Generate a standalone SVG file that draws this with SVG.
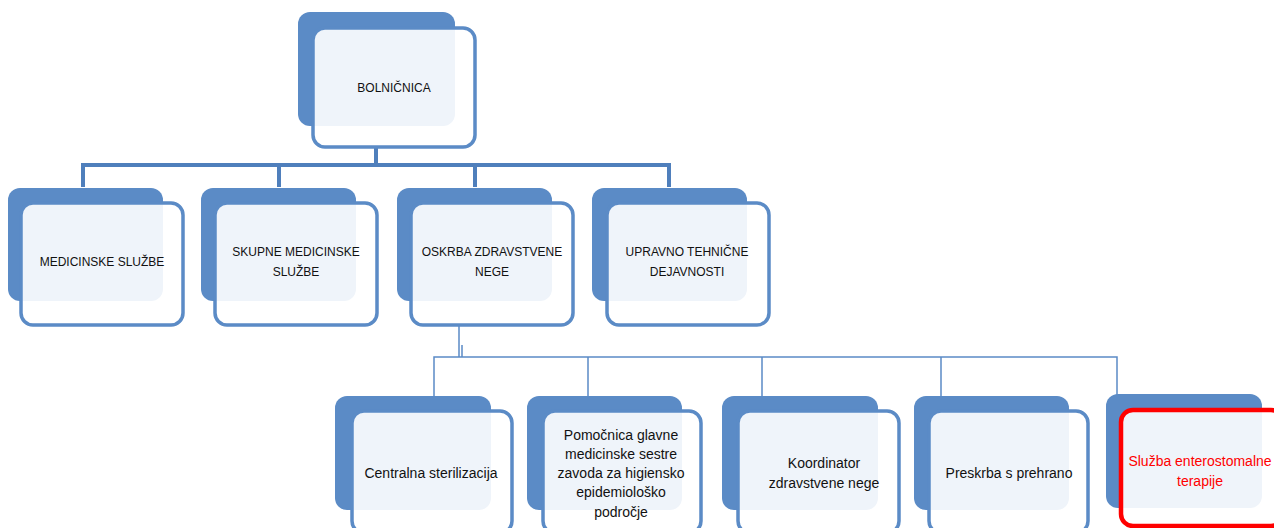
<svg xmlns="http://www.w3.org/2000/svg" width="1274" height="528" viewBox="0 0 1274 528">
<style>
.back{fill:#5b8bc6}
.front{fill:#ffffff;fill-opacity:0.9;stroke:#5b8bc6;stroke-width:3.5}
.red{fill:#ffffff;fill-opacity:0.9;stroke:#ff0000;stroke-width:4.5}
.t1{font-family:"Liberation Sans",Arial,sans-serif;font-size:12px;fill:#111;text-anchor:middle}
.t2{font-family:"Liberation Sans",Arial,sans-serif;font-size:14px;fill:#111;text-anchor:middle}
.tr{fill:#ff0000}
.c1{fill:none;stroke:#4f7fbc;stroke-width:4}
.c2{fill:none;stroke:#5b8bc6;stroke-width:1.5}
</style>
<g id="connectors">
<path class="c1" d="M376 147V165M83 187V165H669V187M279 165V187M475 165V187"/>
<path class="c2" d="M459 325V357M462 345V357M434 396V357H1117V396M588 357V396M762 357V396M941 357V396"/>
</g>
<g id="n0">
<rect class="back" x="298" y="12" width="157" height="114" rx="12"/>
<rect class="front" x="313" y="28" width="162" height="119" rx="12"/>
<text class="t1" x="394" y="92">BOLNIČNICA</text>
</g>
<g id="n1">
<rect class="back" x="8" y="188" width="155" height="113" rx="12"/>
<rect class="front" x="21" y="203" width="162" height="122" rx="12"/>
<text class="t1" x="102" y="266">MEDICINSKE SLUŽBE</text>
</g>
<g id="n2">
<rect class="back" x="201" y="188" width="155" height="113" rx="12"/>
<rect class="front" x="215" y="203" width="162" height="122" rx="12"/>
<text class="t1" x="296" y="256">SKUPNE MEDICINSKE</text>
<text class="t1" x="296" y="276">SLUŽBE</text>
</g>
<g id="n3">
<rect class="back" x="397" y="188" width="155" height="113" rx="12"/>
<rect class="front" x="411" y="203" width="162" height="122" rx="12"/>
<text class="t1" x="492" y="256">OSKRBA ZDRAVSTVENE</text>
<text class="t1" x="492" y="276">NEGE</text>
</g>
<g id="n4">
<rect class="back" x="592" y="188" width="155" height="113" rx="12"/>
<rect class="front" x="607" y="203" width="162" height="122" rx="12"/>
<text class="t1" x="687" y="256">UPRAVNO TEHNIČNE</text>
<text class="t1" x="687" y="276">DEJAVNOSTI</text>
</g>
<g id="n5">
<rect class="back" x="335" y="396" width="156" height="114" rx="12"/>
<rect class="front" x="352" y="411" width="160" height="122" rx="12"/>
<text class="t2" x="431" y="478">Centralna sterilizacija</text>
</g>
<g id="n6">
<rect class="back" x="527" y="396" width="155" height="114" rx="12"/>
<rect class="front" x="543" y="411" width="158" height="122" rx="12"/>
<text class="t2" x="621" y="440">Pomočnica glavne</text>
<text class="t2" x="621" y="459">medicinske sestre</text>
<text class="t2" x="621" y="478">zavoda za higiensko</text>
<text class="t2" x="621" y="497">epidemiološko</text>
<text class="t2" x="621" y="517">področje</text>
</g>
<g id="n7">
<rect class="back" x="722" y="396" width="156" height="114" rx="12"/>
<rect class="front" x="738" y="411" width="161" height="122" rx="12"/>
<text class="t2" x="824" y="468">Koordinator</text>
<text class="t2" x="824" y="488">zdravstvene nege</text>
</g>
<g id="n8">
<rect class="back" x="914" y="396" width="155" height="114" rx="12"/>
<rect class="front" x="929" y="411" width="159" height="122" rx="12"/>
<text class="t2" x="1009" y="478">Preskrba s prehrano</text>
</g>
<g id="n9">
<rect class="back" x="1106" y="394" width="156" height="114" rx="12"/>
<rect class="red" x="1121" y="410" width="162" height="116" rx="12"/>
<text class="t2 tr" x="1200" y="466">Služba enterostomalne</text>
<text class="t2 tr" x="1200" y="486">terapije</text>
</g>
</svg>
